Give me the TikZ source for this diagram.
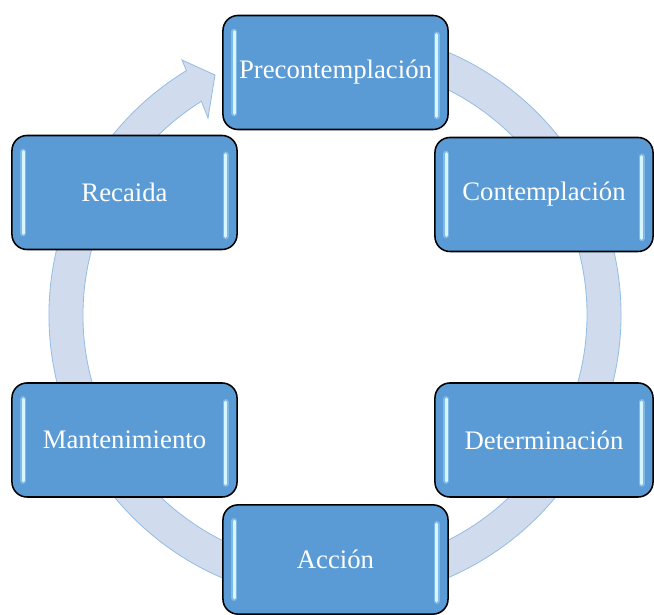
\documentclass[tikz,border=0pt]{standalone}
\usepackage{fontspec}
\setmainfont{Liberation Serif}
\usetikzlibrary{calc}
\definecolor{boxblue}{RGB}{91,155,213}
\definecolor{ringfill}{RGB}{208,220,238}
\definecolor{ringedge}{RGB}{150,190,228}
\definecolor{shine}{RGB}{215,246,255}
\definecolor{glow}{RGB}{150,205,245}
\tikzset
{
    stage/.style  = {rectangle, rounded corners=0.375cm, draw=black, line width=1.1pt, fill=boxblue,
                     text=white, align=center, minimum width=5.625cm, minimum height=2.85cm,
                     font=\fontsize{19}{23}\selectfont},
    ring/.style   = {fill=ringfill, draw=ringedge, line width=0.6pt},
    shineline/.style = {draw=shine, line width=2.2pt, line cap=round},
    shineglow/.style = {draw=glow, line width=4.5pt, line cap=round, opacity=0.6}
}
\begin{document}
\begin{tikzpicture}[x=0.025cm, y=-0.025cm]
	\useasboundingbox (0,0) rectangle (654,615);
	% circular arrow behind the boxes
	\begin{scope}[shift={(335,315)}]
		\draw [ring] (-80:286) arc[start angle=-80, end angle=238.7, radius=286]
			-- (-153,-255) -- (-120,-240) -- (-127,-197) -- (238:252)
			arc[start angle=238, end angle=-80, radius=252] -- cycle;
	\end{scope}

	\node (pre) [stage] at (335.5,72.5) {Precontemplación};
	\node (con) [stage, minimum width=5.45cm] at (544,194.5) {Contemplación};
	\node (det) [stage, minimum width=5.45cm] at (544,440) {Determinación};
	\node (acc) [stage, minimum height=2.73cm] at (335.5,559.5) {Acción};
	\node (man) [stage] at (124.5,440) {Mantenimiento};
	\node (rec) [stage] at (124.5,192.5) {Recaida};

	% light strokes along the short sides
	\foreach \n in {pre,con,det,acc,man,rec}
	{
		\draw [shineglow] ($(\n.north west)+(12,17)$) -- ($(\n.south west)+(12,-17)$);
		\draw [shineglow] ($(\n.north east)+(-12,20)$) -- ($(\n.south east)+(-12,-14)$);
		\draw [shineline] ($(\n.north west)+(12,17)$) -- ($(\n.south west)+(12,-17)$);
		\draw [shineline] ($(\n.north east)+(-12,20)$) -- ($(\n.south east)+(-12,-14)$);
	}
\end{tikzpicture}
\end{document}
